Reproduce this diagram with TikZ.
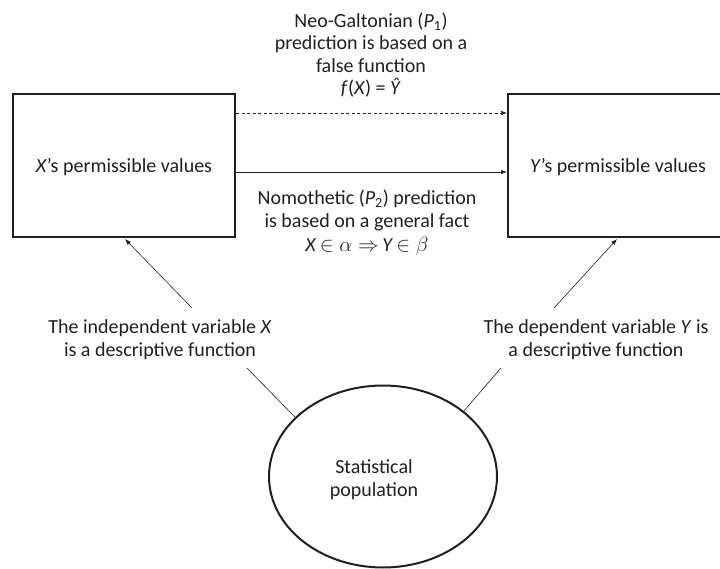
\documentclass[tikz,border=0pt]{standalone}
\usepackage{fontspec}
\setmainfont{Carlito}
\usetikzlibrary{arrows.meta,shapes.geometric}
\definecolor{ink}{HTML}{231F20}
\begin{document}
\begin{tikzpicture}[x=1pt,y=-1pt,
  every node/.style={font=\fontsize{20}{22.5}\selectfont, text=ink},
  valbox/.style={draw=ink, line width=2pt, minimum width=222pt, minimum height=143pt, inner sep=0pt},
  lbl/.style={align=center, inner sep=0pt},
  arr/.style={draw=ink, line width=0.6pt, -{Latex[length=6pt,width=4.5pt]}},
  plain/.style={draw=ink, line width=0.6pt}]
\useasboundingbox (0,0) rectangle (720,569);
\clip (0,0) rectangle (720,569);
\node[valbox] (lbox) at (124,165.5) {};
\node[lbl] (ltxt) at (124,167) {\textit{X}’s permissible values};
\node[valbox] (rbox) at (619,165.5) {};
\node[lbl] (rtxt) at (618,167) {\textit{Y}’s permissible values};

\draw[arr, dashed, dash pattern=on 3pt off 2.5pt] ([yshift=52.5pt]lbox.east) -- ([yshift=52.5pt]rbox.west);
\draw[arr] ([yshift=-6.5pt]lbox.east) -- ([yshift=-6.5pt]rbox.west);

\node[lbl] (top) at (371,55) {Neo-Galtonian (\textit{P}\textsubscript{1})\\prediction is based on a\\false function\\\textit{f}(\textit{X}) = \textit{Ŷ}};
\node[lbl] (bot) at (367,222.5) {Nomothetic (\textit{P}\textsubscript{2}) prediction\\is based on a general fact\\[1.5pt]\textit{X}\,$\in\alpha\Rightarrow$\,\textit{Y}\,$\in\beta$};

\node[lbl] (ltext) at (160,339.5) {The independent variable \textit{X}\\is a descriptive function};
\node[lbl] (rtext) at (596,339.5) {The dependent variable \textit{Y} is\\a descriptive function};

\node[draw=ink, line width=2pt, ellipse, minimum width=228pt, minimum height=182pt, inner sep=0pt] (pop) at (383,476.5) {};
\node[lbl] (poptxt) at (374,479.5) {Statistical\\population};

\coordinate (la) at (192,308);
\coordinate (ra) at (554,308);
\coordinate (lb) at (247,368);
\coordinate (rb) at (501,368);
\draw[arr] (la) -- ([xshift=1pt,yshift=-1pt]lbox.south);
\draw[arr] (ra) -- ([xshift=-2pt,yshift=-1pt]rbox.south);
\draw[plain] (lb) -- (pop.146);
\draw[plain] (rb) -- (pop.39);
\end{tikzpicture}
\end{document}
